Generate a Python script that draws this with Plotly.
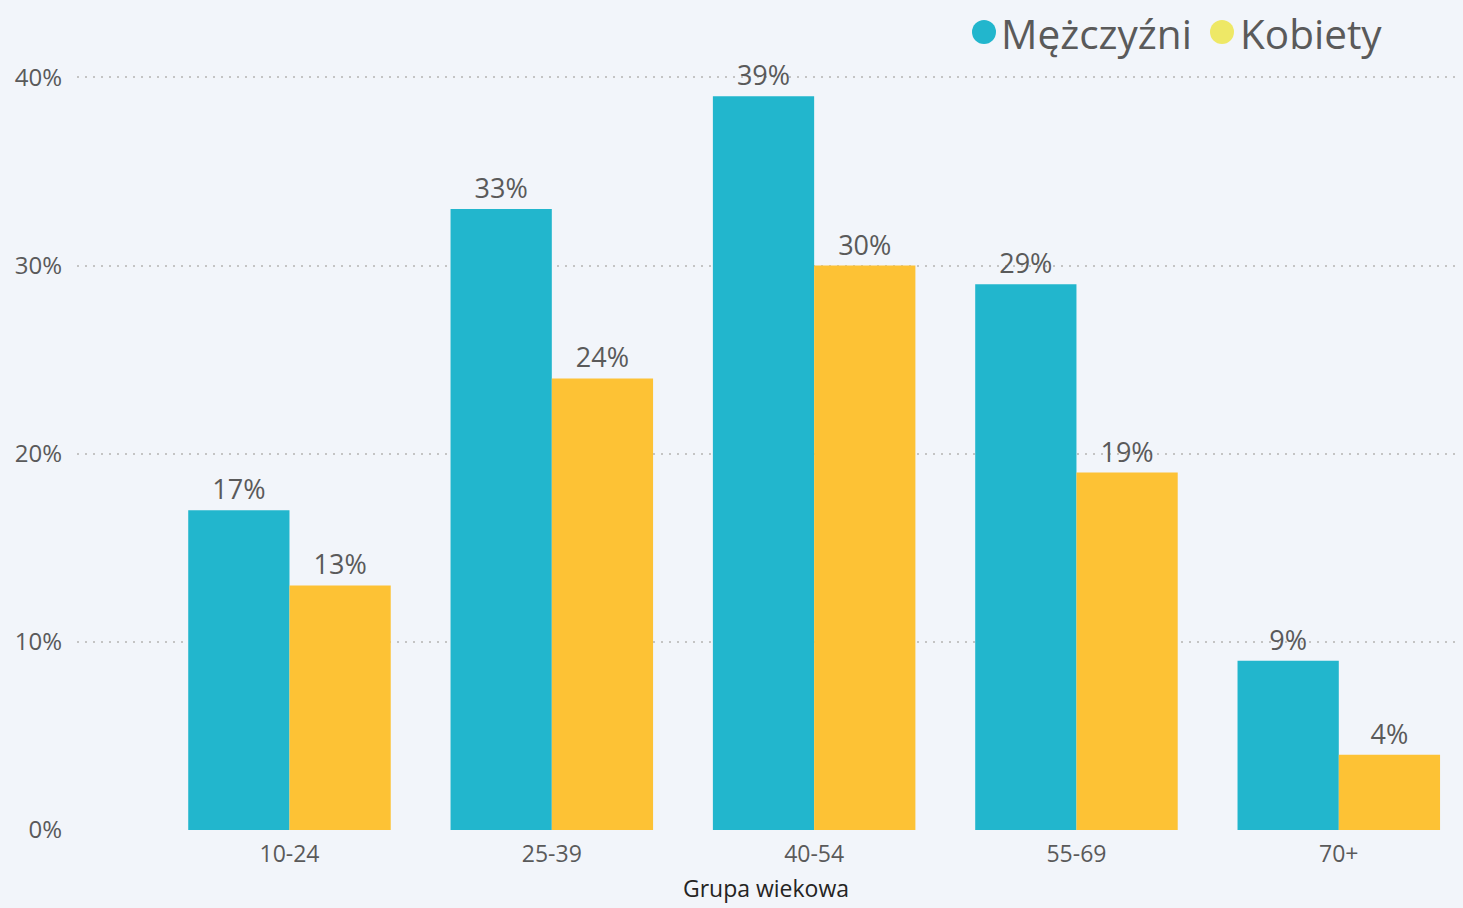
import plotly.graph_objects as go

categories = ["10-24", "25-39", "40-54", "55-69", "70+"]
men = [17, 33, 39, 29, 9]
women = [13, 24, 30, 19, 4]
y_ticks = [0, 10, 20, 30, 40]
y_tick_labels = ["0%", "10%", "20%", "30%", "40%"]
series_names = ["Mężczyźni", "Kobiety"]

TEAL = "#22B6CD"
YELLOW = "#FDC235"
LEG_YELLOW = "#EEE866"
BG = "#F2F5FA"
FONT = "Open Sans"
TXT = "#5A5A5A"

W, H = 1463, 908
ML, MR, MT, MB = 77, 8, 68, 78
PW, PH = W - ML - MR, H - MT - MB


def px_x(p):
    return (p - ML) / PW


def px_y(p):
    return (H - MB - p) / PH


fig = go.Figure()
fig.add_trace(go.Bar(x=categories, y=men, name=series_names[0], marker_color=TEAL,
                     marker_line_width=0,
                     text=[f"{v}%" for v in men], textposition="outside",
                     textfont=dict(size=27, color=TXT, family=FONT),
                     cliponaxis=False, showlegend=False))
fig.add_trace(go.Bar(x=categories, y=women, name=series_names[1], marker_color=YELLOW,
                     marker_line_width=0,
                     text=[f"{v}%" for v in women], textposition="outside",
                     textfont=dict(size=27, color=TXT, family=FONT),
                     cliponaxis=False, showlegend=False))

# custom legend: circle markers + labels
legend_items = [(series_names[0], TEAL, 984, 999), (series_names[1], LEG_YELLOW, 1222, 1238)]
for name, col, cx, tx in legend_items:
    fig.add_shape(type="circle", xref="paper", yref="paper",
                  xsizemode="pixel", ysizemode="pixel",
                  xanchor=px_x(cx), yanchor=px_y(32),
                  x0=-12, x1=12, y0=-12, y1=12,
                  fillcolor=col, line_width=0, layer="above")
    fig.add_annotation(text=name, xref="paper", yref="paper",
                       x=px_x(tx), xanchor="left", y=px_y(33), yanchor="middle",
                       showarrow=False, font=dict(size=40.5, color=TXT, family=FONT))

fig.update_layout(
    width=W, height=H,
    margin=dict(l=ML, r=MR, t=MT, b=MB),
    paper_bgcolor=BG, plot_bgcolor=BG,
    barmode="group", bargap=0.228, bargroupgap=0,
    font=dict(family=FONT, color=TXT),
    showlegend=False,
    xaxis=dict(type="category", range=[-0.81, 4.443], showgrid=False,
               tickfont=dict(size=23, color=TXT, family=FONT),
               ticks="", showline=False, zeroline=False, ticklabelstandoff=8,
               title=dict(text="Grupa wiekowa", font=dict(size=23, color="#252423", family=FONT),
                          standoff=12)),
    yaxis=dict(range=[0, 40.5], tickvals=y_ticks, ticktext=y_tick_labels,
               tickfont=dict(size=24, color=TXT, family=FONT),
               showgrid=True, gridcolor="#C4C4C4", griddash="2px,6px", gridwidth=2,
               zeroline=False, showline=False, ticks="", ticklabelstandoff=14),
)

fig.write_html("out.html", config={"displayModeBar": False},
               post_script="document.body.style.margin='0';document.body.style.overflow='hidden';")
